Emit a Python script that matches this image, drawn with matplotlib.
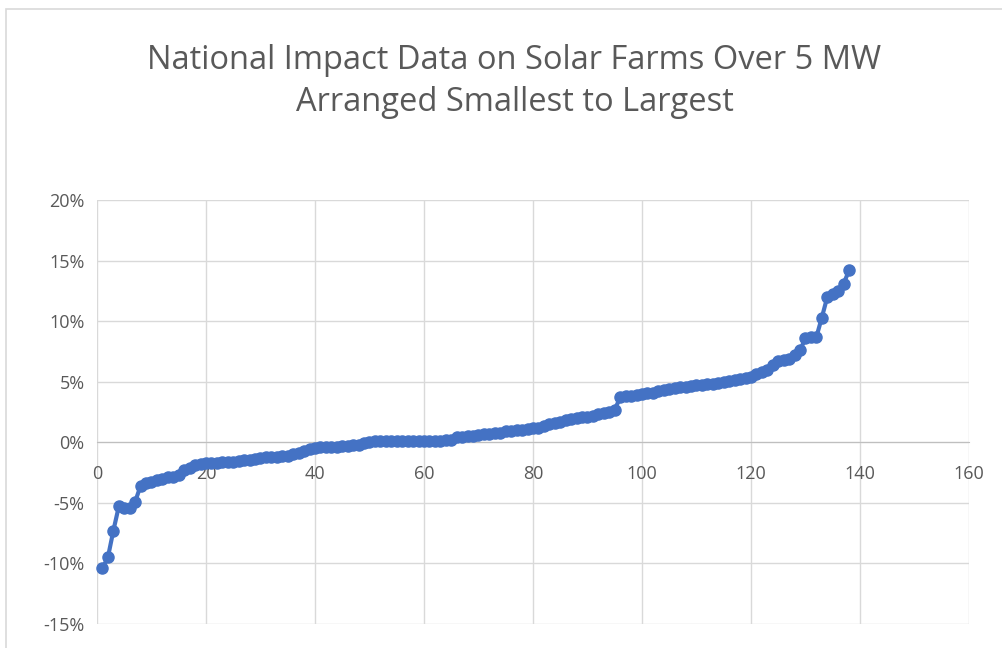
import matplotlib.pyplot as plt
from matplotlib.patches import Rectangle
from matplotlib.ticker import FuncFormatter, MultipleLocator

plt.rcParams['font.family'] = ['Open Sans', 'DejaVu Sans']

# rank of each farm (smallest to largest) and its impact in percent
rank = list(range(1, 139))
impact = [
    -10.4, -9.5, -7.3, -5.3, -5.4, -5.4, -4.9, -3.6, -3.4, -3.3,
    -3.1, -3.0, -2.9, -2.85, -2.7, -2.3, -2.1, -1.9, -1.8, -1.75,
    -1.7, -1.7, -1.65, -1.6, -1.6, -1.55, -1.5, -1.45, -1.35, -1.3,
    -1.25, -1.2, -1.2, -1.15, -1.1, -1.0, -0.85, -0.7, -0.55, -0.45,
    -0.4, -0.4, -0.35, -0.35, -0.3, -0.3, -0.25, -0.2, -0.1, 0.0,
    0.1, 0.1, 0.1, 0.1, 0.1, 0.1, 0.1, 0.1, 0.1, 0.1,
    0.1, 0.1, 0.1, 0.15, 0.2, 0.4, 0.45, 0.5, 0.55, 0.6,
    0.65, 0.7, 0.75, 0.8, 0.9, 0.95, 1.0, 1.05, 1.1, 1.15,
    1.2, 1.35, 1.5, 1.6, 1.7, 1.8, 1.9, 2.0, 2.05, 2.1,
    2.2, 2.3, 2.4, 2.5, 2.7, 3.7, 3.8, 3.85, 3.9, 4.0,
    4.05, 4.1, 4.2, 4.3, 4.4, 4.5, 4.55, 4.6, 4.65, 4.7,
    4.75, 4.8, 4.85, 4.9, 5.0, 5.05, 5.15, 5.2, 5.3, 5.4,
    5.6, 5.8, 6.0, 6.4, 6.7, 6.8, 6.9, 7.2, 7.6, 8.6,
    8.7, 8.7, 10.3, 12.0, 12.2, 12.5, 13.1, 14.2,
]

title = 'National Impact Data on Solar Farms Over 5 MW\nArranged Smallest to Largest'
grey = '#595959'
blue = '#4472C4'

fig = plt.figure(figsize=(10.03, 6.48), dpi=100)
# light chart-area border, cut off on the right and bottom like the screenshot
fig.patches.append(Rectangle((6 / 1003, -0.05), 1.1, 1 - 9 / 648 + 0.05,
                             transform=fig.transFigure, fill=False,
                             edgecolor='#D9D9D9', linewidth=1.2))

ax = fig.add_axes([97 / 1003, 1 - 624 / 648, (969 - 97) / 1003, (624 - 200) / 648])
ax.plot(rank, impact, color=blue, linewidth=3, marker='o', markersize=8,
        markeredgecolor=blue, clip_on=False, zorder=3)

ax.set_xlim(0, 160)
ax.set_ylim(-15, 20)
ax.xaxis.set_major_locator(MultipleLocator(20))
ax.yaxis.set_major_locator(MultipleLocator(5))
ax.yaxis.set_major_formatter(FuncFormatter(lambda v, p: f'{v:.0f}%'))

ax.grid(True, color='#D9D9D9', linewidth=1.0, zorder=0)
for s in ['top', 'right', 'left']:
    ax.spines[s].set_visible(False)
ax.spines['bottom'].set_position(('data', 0))
ax.spines['bottom'].set_color('#BFBFBF')
ax.tick_params(axis='both', length=0, labelsize=13, labelcolor=grey)
ax.tick_params(axis='x', pad=16)
ax.tick_params(axis='y', pad=9)

fig.text(0.513, 0.874, title, ha='center', va='center', fontsize=23.5,
         color=grey, linespacing=1.38)

fig.savefig('out.png', dpi=100)
